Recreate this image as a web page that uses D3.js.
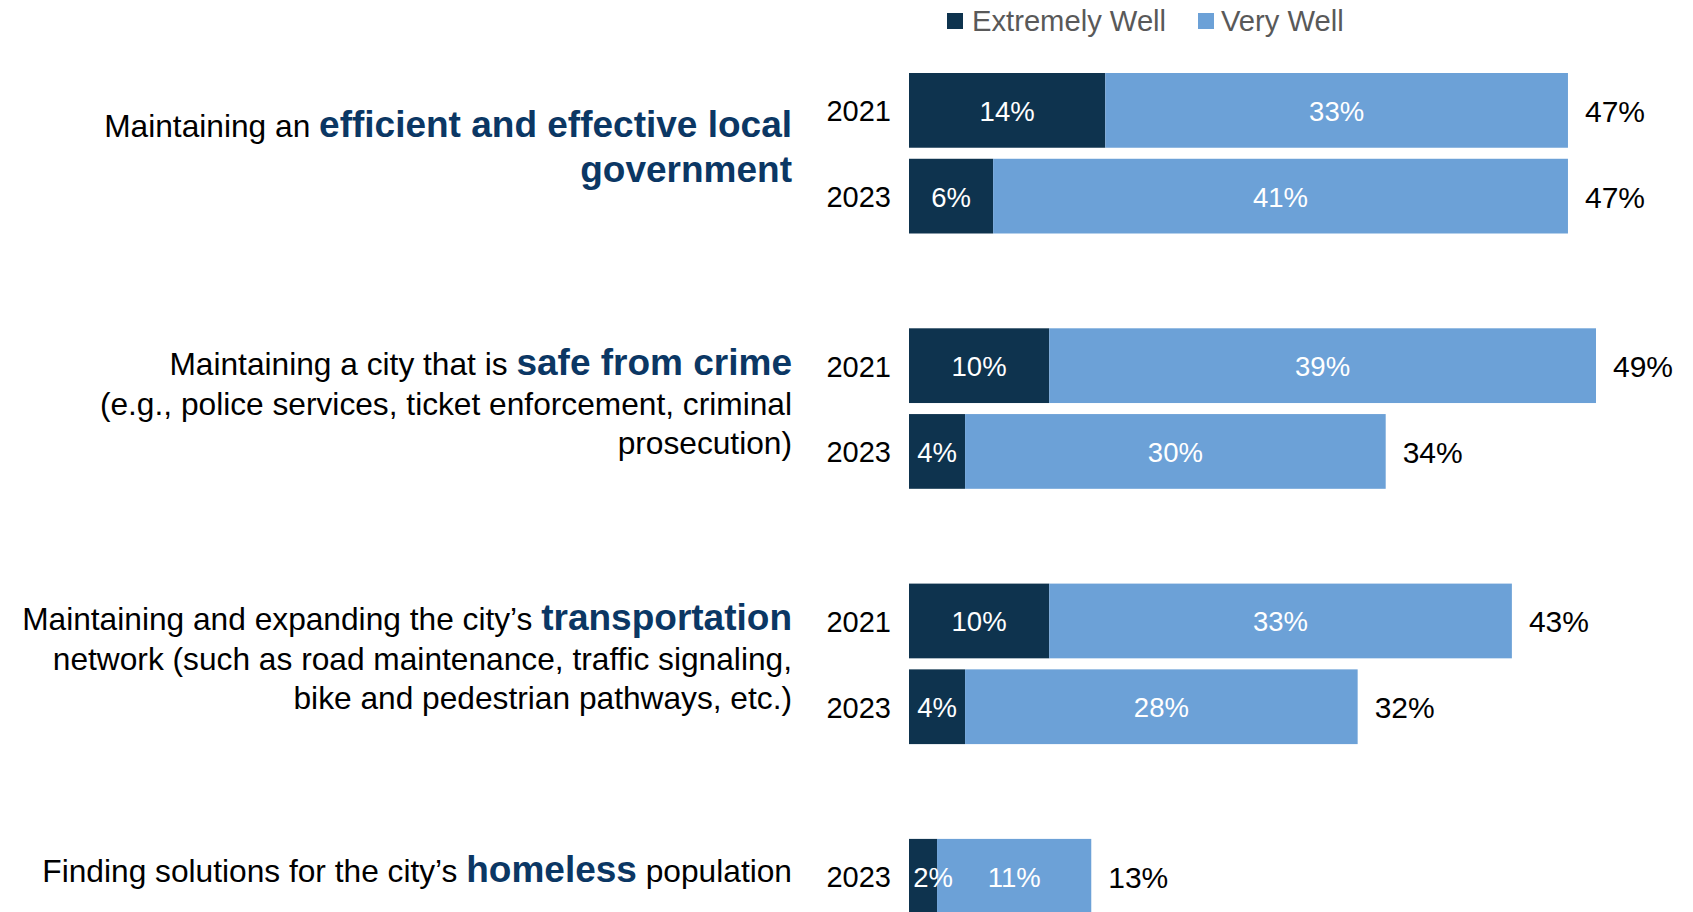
<!DOCTYPE html>
<html>
<head>
<meta charset="utf-8">
<script src="https://cdn.jsdelivr.net/npm/d3@7"></script>
<style>
  html, body { margin: 0; padding: 0; background: #fff; }
  svg { display: block; font-family: "Liberation Sans", Arial, sans-serif; }
</style>
</head>
<body>
<svg id="chart" width="1693" height="912"></svg>
<script>
// Survey items: each label is a list of lines, each line a list of [text, emphasised] runs
const categoryLabels = [
  [[["Maintaining an ", false], ["efficient and effective local", true]],
   [["government", true]]],
  [[["Maintaining a city that is ", false], ["safe from crime", true]],
   [["(e.g., police services, ticket enforcement, criminal", false]],
   [["prosecution)", false]]],
  [[["Maintaining and expanding the city\u2019s ", false], ["transportation", true]],
   [["network (such as road maintenance, traffic signaling,", false]],
   [["bike and pedestrian pathways, etc.)", false]]],
  [[["Finding solutions for the city\u2019s ", false], ["homeless", true], [" population", false]]]
];

// Survey waves shown for each item
const years = [["2021", "2023"], ["2021", "2023"], ["2021", "2023"], ["2023"]];

// Share rating the city "Extremely Well" / "Very Well" (%)
const extremelyWell = [[14, 6], [10, 4], [10, 4], [2]];
const veryWell      = [[33, 41], [39, 30], [33, 28], [11]];

const seriesNames = ["Extremely Well", "Very Well"];
const seriesColors = ["#0e334e", "#6ca1d7"];

const svg = d3.select("#chart");

const x = d3.scaleLinear().domain([0, 49]).range([909, 1596]);

const groupBand = d3.scaleBand()
  .domain(d3.range(categoryLabels.length))
  .range([73, 73 + 255.3 * categoryLabels.length]);

const rowBand = d3.scaleBand()
  .domain([0, 1])
  .range([0, 160.5])
  .paddingInner(11 / 85.5)
  .paddingOuter(0);

// Flatten to one record per bar row
const rows = [];
years.forEach((ys, g) => {
  ys.forEach((yr, r) => {
    rows.push({
      g, r, year: yr,
      ext: extremelyWell[g][r],
      very: veryWell[g][r],
      y0: groupBand(g) + rowBand(r),
      h: rowBand.bandwidth()
    });
  });
});

// Bars: stacked segments
const rowG = svg.append("g").selectAll("g.row")
  .data(rows).join("g").attr("class", "row");

rowG.append("rect")
  .attr("x", d => x(0))
  .attr("y", d => d.y0)
  .attr("width", d => x(d.ext) - x(0))
  .attr("height", d => d.h)
  .attr("fill", seriesColors[0]);

rowG.append("rect")
  .attr("x", d => x(d.ext))
  .attr("y", d => d.y0)
  .attr("width", d => x(d.ext + d.very) - x(d.ext))
  .attr("height", d => d.h)
  .attr("fill", seriesColors[1]);

// Segment value labels
rowG.append("text")
  .attr("x", d => {
    const c = (x(0) + x(d.ext)) / 2;
    return Math.max(c, x(0) + 24);
  })
  .attr("y", d => d.y0 + d.h / 2 + 1)
  .attr("text-anchor", "middle")
  .attr("dominant-baseline", "central")
  .attr("font-size", 27.5)
  .attr("fill", "#fff")
  .text(d => d.ext + "%");

rowG.append("text")
  .attr("x", d => (x(d.ext) + x(d.ext + d.very)) / 2)
  .attr("y", d => d.y0 + d.h / 2 + 1)
  .attr("text-anchor", "middle")
  .attr("dominant-baseline", "central")
  .attr("font-size", 27.5)
  .attr("fill", "#fff")
  .text(d => d.very + "%");

// Totals
rowG.append("text")
  .attr("x", d => x(d.ext + d.very) + 17)
  .attr("y", d => d.y0 + d.h / 2 + 1)
  .attr("dominant-baseline", "central")
  .attr("font-size", 30)
  .attr("fill", "#000")
  .text(d => (d.ext + d.very) + "%");

// Year labels
rowG.append("text")
  .attr("x", x(0) - 18)
  .attr("y", d => d.y0 + d.h / 2 + 1)
  .attr("text-anchor", "end")
  .attr("dominant-baseline", "central")
  .attr("font-size", 29)
  .attr("fill", "#000")
  .text(d => d.year);

// Item labels, right-aligned and vertically centred on their bars
categoryLabels.forEach((lines, g) => {
  const nRows = years[g].length;
  const top = groupBand(g);
  const bottom = top + rowBand(nRows - 1) + rowBand.bandwidth();
  const center = (top + bottom) / 2;
  const allBold = lines.every(l => l.some(s => s[1]));
  const lh = allBold ? 45 : 39.5;
  const first = center - (lines.length - 1) / 2 * lh + 6;
  lines.forEach((runs, i) => {
    const t = svg.append("text")
      .attr("x", 792)
      .attr("y", first + i * lh)
      .attr("text-anchor", "end");
    runs.forEach(([txt, bold]) => {
      t.append("tspan")
        .attr("font-size", bold ? 37 : 31.7)
        .attr("font-weight", bold ? "bold" : "normal")
        .attr("fill", bold ? "#0b3764" : "#000")
        .text(txt);
    });
  });
});

// Legend
const legendX = [947, 1198];
const legend = svg.append("g").selectAll("g")
  .data(seriesNames).join("g")
  .attr("transform", (d, i) => `translate(${legendX[i]},13)`);
legend.append("rect")
  .attr("width", 16).attr("height", 16)
  .attr("fill", (d, i) => seriesColors[i]);
legend.append("text")
  .attr("x", (d, i) => i === 0 ? 25 : 23)
  .attr("y", 18)
  .attr("font-size", 29.2)
  .attr("fill", "#595959")
  .text(d => d);
</script>
</body>
</html>
